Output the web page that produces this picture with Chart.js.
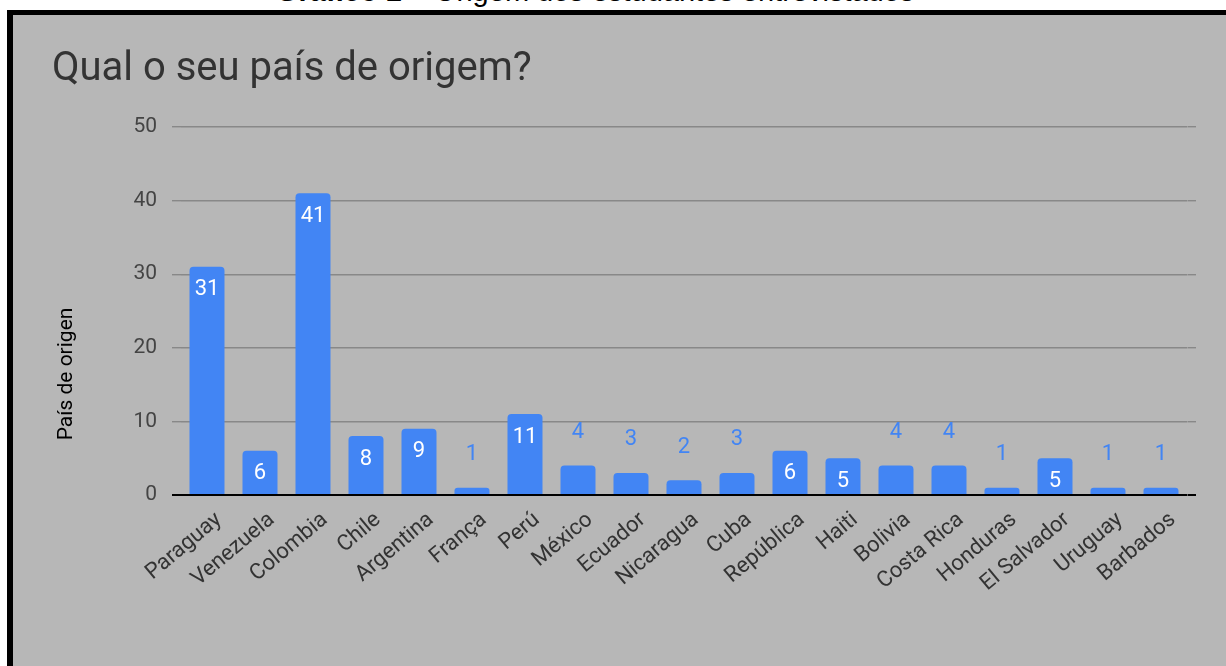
<!DOCTYPE html>
<html>
<head>
<meta charset="utf-8">
<script src="https://cdn.jsdelivr.net/npm/chart.js@4"></script>
<style>
  html, body { margin: 0; padding: 0; background: #ffffff; overflow: hidden; width: 1226px; height: 666px; }
  #caption { position: absolute; left: 276px; top: -23px; font-family: "Liberation Sans", Arial, sans-serif; font-size: 29px; color: #000; white-space: nowrap; line-height: 29px; }
  #frame { position: absolute; left: 7px; top: 10px; width: 1300px; height: 700px; background: #b7b7b7; border-left: 6px solid #000; border-top: 5px solid #000; }
  #wrap { position: absolute; left: 13px; top: 15px; width: 1213px; height: 651px; }
</style>
</head>
<body>
<div id="caption"><b>Gráfico 1</b> – Origem dos estudantes entrevistados</div>
<div id="frame"></div>
<div id="wrap"><canvas id="c" width="1213" height="651"></canvas></div>
<script>
const chartTitle = "Qual o seu país de origem?";
const yAxisTitle = "País de origen";
const categories = ["Paraguay", "Venezuela", "Colombia", "Chile", "Argentina", "França", "Perú", "México", "Ecuador", "Nicaragua", "Cuba", "República", "Haiti", "Bolivia", "Costa Rica", "Honduras", "El Salvador", "Uruguay", "Barbados"];
const values = [31, 6, 41, 8, 9, 1, 11, 4, 3, 2, 3, 6, 5, 4, 4, 1, 5, 1, 1];
const yTickValues = [0, 10, 20, 30, 40, 50];

const barColor = "#4285f4";
const fontFamily = "Roboto, 'Noto Sans', sans-serif";

const valueLabels = {
  id: "valueLabels",
  afterDatasetsDraw(chart) {
    const ctx = chart.ctx;
    const meta = chart.getDatasetMeta(0);
    ctx.save();
    ctx.font = "22px " + fontFamily;
    ctx.textAlign = "center";
    ctx.textBaseline = "middle";
    meta.data.forEach((bar, i) => {
      const v = values[i];
      if (v >= 5) {
        ctx.fillStyle = "#ffffff";
        ctx.fillText(String(v), bar.x, bar.y + 23);
      } else {
        ctx.fillStyle = barColor;
        ctx.fillText(String(v), bar.x, bar.y - 33);
      }
    });
    ctx.restore();
  }
};

const yTitlePlugin = {
  id: "yTitlePlugin",
  afterDraw(chart) {
    const ctx = chart.ctx;
    ctx.save();
    ctx.translate(54, 359);
    ctx.rotate(-Math.PI / 2);
    ctx.font = "21px " + fontFamily;
    ctx.fillStyle = "#000000";
    ctx.textAlign = "center";
    ctx.textBaseline = "middle";
    ctx.fillText(yAxisTitle, 0, 0);
    ctx.restore();
  }
};

const gridColor = (c) => (c.tick && c.tick.value === 0) ? "#000000" : "#888888";
const gridWidth = (c) => (c.tick && c.tick.value === 0) ? 2 : 1.4;

new Chart(document.getElementById("c"), {
  type: "bar",
  data: {
    labels: categories,
    datasets: [{
      data: values,
      backgroundColor: barColor,
      borderRadius: { topLeft: 4, topRight: 4, bottomLeft: 0, bottomRight: 0 },
      borderSkipped: "bottom",
      barPercentage: 0.66,
      categoryPercentage: 1.0
    }]
  },
  options: {
    responsive: false,
    animation: false,
    devicePixelRatio: 1,
    layout: { padding: { left: 39, right: 30, top: 0, bottom: 0 } },
    plugins: {
      legend: { display: false },
      tooltip: { enabled: false },
      title: {
        display: true,
        text: chartTitle,
        align: "start",
        color: "#333333",
        font: { family: fontFamily, size: 40, weight: "normal", lineHeight: 1.2 },
        padding: { top: 31, bottom: 33 }
      }
    },
    scales: {
      x: {
        grid: { display: false, drawTicks: false },
        border: { display: false },
        ticks: {
          color: "#333333",
          font: { family: fontFamily, size: 22 },
          maxRotation: 40,
          minRotation: 40,
          autoSkip: false,
          padding: 12,
          labelOffset: 12
        },
        afterFit(scale) { scale.height = 171; }
      },
      y: {
        min: 0,
        max: 50,
        afterBuildTicks(scale) { scale.ticks = yTickValues.map(v => ({ value: v })); },
        ticks: {
          color: "#444444",
          font: { family: fontFamily, size: 21 },
          padding: 15
        },
        grid: { drawTicks: true, tickLength: 8.5, color: gridColor, lineWidth: gridWidth },
        border: { display: false },
        afterFit(scale) { scale.width = 128.5; }
      },
      yRight: {
        position: "right",
        min: 0,
        max: 50,
        afterBuildTicks(scale) { scale.ticks = yTickValues.map(v => ({ value: v })); },
        ticks: { display: false },
        grid: { drawOnChartArea: false, drawTicks: true, tickLength: 8.5, color: gridColor, lineWidth: gridWidth },
        border: { display: false },
        afterFit(scale) { scale.width = 8.5; }
      }
    }
  },
  plugins: [valueLabels, yTitlePlugin]
});
</script>
</body>
</html>
